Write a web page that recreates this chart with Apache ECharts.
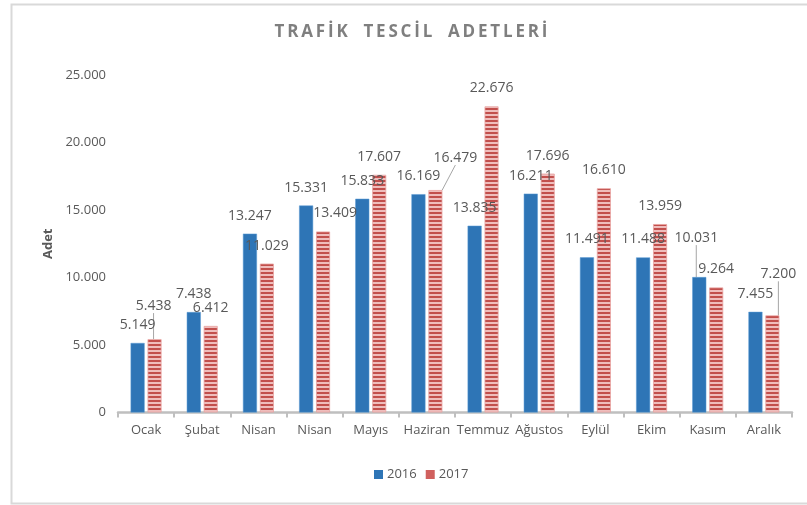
<!DOCTYPE html>
<html><head><meta charset="utf-8">
<script src="https://cdn.jsdelivr.net/npm/echarts@6/dist/echarts.min.js"></script>
<style>html,body{margin:0;padding:0;background:#fff}#c{width:807px;height:505px}</style>
</head><body><div id="c"></div>
<script>
const titleText = 'TRAFİK TESCİL ADETLERİ';
const yAxisName = 'Adet';
const categories = ['Ocak','Şubat','Nisan','Nisan','Mayıs','Haziran','Temmuz','Ağustos','Eylül','Ekim','Kasım','Aralık'];
const seriesNames = ['2016','2017'];
const values2016 = [5149,7438,13247,15331,15833,16169,13835,16211,11491,11488,10031,7455];
const values2017 = [5438,6412,11029,13409,17607,16479,22676,17696,16610,13959,9264,7200];
const yTickMin = 0, yTickMax = 25000, yTickStep = 5000;

// label nudges (layout only) : dataIndex -> [dx, dy, showLeaderLine]
const nudges2016 = {10: [-3, -21, true]};
const nudges2017 = {0: [-1, -15, true], 3: [12, 0, false], 5: [20, -14, true], 11: [6, -23, true]};

const FONT = 'Open Sans';
const TXT = '#595959';
const fmt = v => String(v).replace(/\B(?=(\d{3})+(?!\d))/g, '.');
const spaced = s => s.split('').join('\u2009');

// striped pattern for 2017 bars
const pc = document.createElement('canvas');
pc.width = 4; pc.height = 4;
const pctx = pc.getContext('2d');
pctx.fillStyle = '#c24f4c'; pctx.fillRect(0,0,4,2);
pctx.fillStyle = '#efbdbc'; pctx.fillRect(0,2,4,2);

function buildData(vals, nudges){
  return vals.map((v,i) => {
    const n = nudges[i];
    if (n && n[2]) return {value: v, labelLine: {show: true}};
    return v;
  });
}
function layoutFn(nudges){
  return function(p){
    const n = nudges[p.dataIndex];
    if (!n) return {};
    return {dx: n[0], dy: n[1]};
  };
}
const labelCommon = {
  show: true, position: 'top', distance: 11,
  color: TXT, fontSize: 14, fontFamily: FONT,
  formatter: p => fmt(p.value)
};
const lineCommon = {show: false, lineStyle: {color: '#a6a6a6', width: 1}};

const chart = echarts.init(document.getElementById('c'), null, {renderer: 'canvas'});
chart.setOption({
  animation: false,
  backgroundColor: '#ffffff',
  graphic: [{
    type: 'rect', left: 9, top: 2, silent: true, z: -10,
    shape: {width: 820, height: 499},
    style: {fill: 'none', stroke: '#d9d9d9', lineWidth: 2}
  }],
  title: {
    text: spaced(titleText).replace(/\u2009 \u2009/g, '\u2009\u2009 \u2009\u2009'),
    left: 406, top: 19, textAlign: 'center',
    textStyle: {color: '#7f7f7f', fontSize: 17, fontWeight: 'bold', fontFamily: FONT}
  },
  legend: {
    data: [
      {name: seriesNames[0], itemStyle: {color: '#2e75b6', borderWidth: 0}},
      {name: seriesNames[1], itemStyle: {color: '#d0605e', borderWidth: 0}}
    ],
    left: 369, top: 463, itemWidth: 9, itemHeight: 9, itemGap: 9,
    icon: 'rect',
    textStyle: {color: TXT, fontSize: 13, fontFamily: FONT, padding: [0, 0, 0, -1]}
  },
  grid: {left: 118, right: 15, top: 75, bottom: 92.5, containLabel: false},
  xAxis: {
    type: 'category', data: categories,
    axisLine: {lineStyle: {color: '#bfbfbf', width: 2.5}},
    axisTick: {show: true, length: 5, lineStyle: {color: '#bfbfbf', width: 2}},
    axisLabel: {color: TXT, fontSize: 13, fontFamily: FONT, margin: 11, interval: 0},
    splitLine: {show: false}
  },
  yAxis: {
    type: 'value', min: yTickMin, max: yTickMax, interval: yTickStep,
    name: yAxisName, nameLocation: 'middle', nameRotate: 90, nameGap: 62,
    nameTextStyle: {color: TXT, fontSize: 13, fontWeight: 'bold', fontFamily: FONT},
    axisLine: {show: false}, axisTick: {show: false}, splitLine: {show: false},
    axisLabel: {color: TXT, fontSize: 13, fontFamily: FONT, margin: 12, formatter: v => fmt(v)}
  },
  series: [
    {
      name: seriesNames[0], type: 'bar', barWidth: 14, barGap: '21%',
      data: buildData(values2016, nudges2016),
      itemStyle: {color: '#2e75b6', borderColor: '#5b9bd5', borderWidth: 0.5},
      label: labelCommon, labelLine: lineCommon,
      labelLayout: layoutFn(nudges2016)
    },
    {
      name: seriesNames[1], type: 'bar', barWidth: 14, barGap: '21%',
      data: buildData(values2017, nudges2017),
      itemStyle: {color: {image: pc, repeat: 'repeat'}, borderColor: '#e8a3a1', borderWidth: 0.8},
      label: labelCommon, labelLine: lineCommon,
      labelLayout: layoutFn(nudges2017)
    }
  ]
});
</script></body></html>
